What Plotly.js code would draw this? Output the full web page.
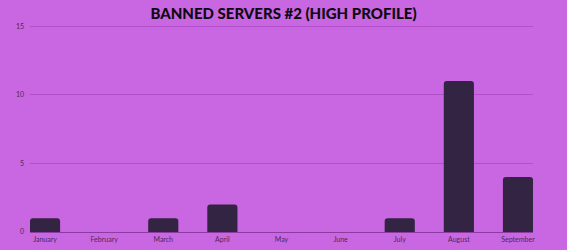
<!DOCTYPE html>
<html><head><meta charset="utf-8">
<script src="https://cdn.plot.ly/plotly-3.0.1.min.js"></script>
<style>html,body{margin:0;padding:0;background:#c966e1;}#chart{width:567px;height:250px;}</style>
</head><body><div id="chart"></div>
<script>
const months = ["January","February","March","April","May","June","July","August","September"];
const bannedServers = [1,0,1,2,0,0,1,11,4];
const yTicks = [0,5,10,15];

const trace = {
  type: 'bar',
  x: months,
  y: bannedServers,
  width: 0.51,
  marker: {color: '#342444', cornerradius: 3, line: {width: 0}},
  hoverinfo: 'x+y'
};
const layout = {
  width: 567, height: 250,
  paper_bgcolor: '#c966e1', plot_bgcolor: '#c966e1',
  margin: {l: 30, r: 34, t: 24, b: 18, pad: 0},
  title: {text: 'BANNED SERVERS #2 (HIGH PROFILE)', x: 0.5, xanchor: 'center', y: 0.945, yanchor: 'middle',
    font: {family: 'Lato, sans-serif', size: 15, weight: 900, color: '#0d0a10'}},
  xaxis: {type: 'category', range: [-0.254, 8.254], showgrid: false, zeroline: false,
    showline: false, ticks: '', tickfont: {family: 'Lato, sans-serif', size: 7, color: '#4a2a5a'}, ticklabelstandoff: 2},
  yaxis: {range: [0, 15.15], tickvals: yTicks, ticktext: yTicks.map(String), showgrid: true, gridcolor: '#b24fc9', gridwidth: 1,
    zeroline: true, zerolinecolor: '#8e3aa3', zerolinewidth: 1, showline: false, ticks: '',
    tickfont: {family: 'Lato, sans-serif', size: 7, color: '#4a2a5a'}, ticklabelstandoff: 5},
  showlegend: false, bargap: 0.49
};
Plotly.newPlot('chart', [trace], layout, {displayModeBar: false, staticPlot: true});
</script></body></html>
